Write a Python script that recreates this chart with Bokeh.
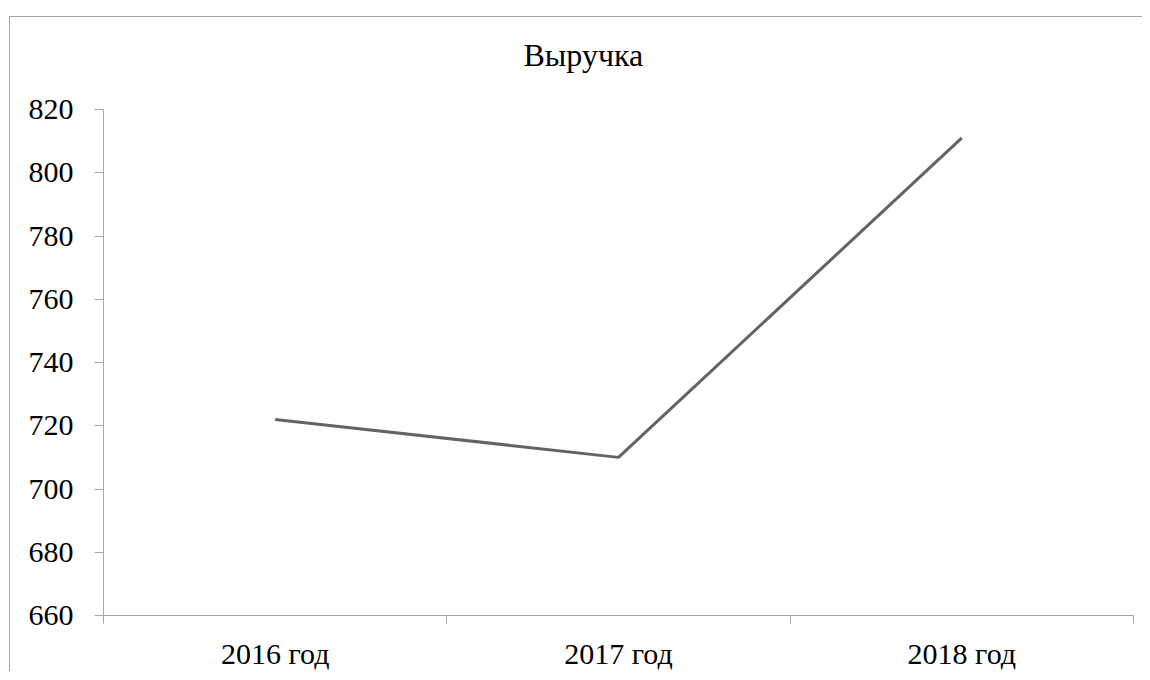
from bokeh.plotting import figure
from bokeh.models import FixedTicker, Range1d, ColumnDataSource, Spacer, Title
from bokeh.layouts import column, row
from bokeh.embed import file_html
from bokeh.resources import INLINE

categories = ["2016 год", "2017 год", "2018 год"]
revenue = [722, 710, 811]
y_ticks = [660, 680, 700, 720, 740, 760, 780, 800, 820]
title_text = "Выручка"

FONT = "Liberation Serif"
AXIS_COLOR = "#a6a6a6"

xs = [i + 0.5 for i in range(len(categories))]
src = ColumnDataSource(dict(x=xs, y=revenue))

p = figure(width=1133, height=655, output_backend="svg", toolbar_location=None, title=None,
           x_range=Range1d(0, len(categories)), y_range=Range1d(y_ticks[0], y_ticks[-1]),
           min_border_left=93, min_border_top=92, min_border_right=10, min_border_bottom=55)
p.styles = {"border-top": "1px solid #a6a6a6", "border-left": "1px solid #a6a6a6"}
p.outline_line_color = None
p.grid.visible = False

p.line("x", "y", source=src, line_color="#636363", line_width=3)

# x axis
xt = FixedTicker(ticks=xs, minor_ticks=list(range(len(categories) + 1)))
p.xaxis.ticker = xt
p.xaxis.major_label_overrides = {x: c for x, c in zip(xs, categories)}
p.xaxis.major_tick_out = 0
p.xaxis.major_tick_in = 0
p.xaxis.minor_tick_out = 8
p.xaxis.minor_tick_in = 0
p.xaxis.axis_line_color = AXIS_COLOR
p.xaxis.minor_tick_line_color = AXIS_COLOR
p.xaxis.major_label_standoff = 13

# y axis
p.yaxis.ticker = FixedTicker(ticks=y_ticks)
p.yaxis.major_tick_out = 9
p.yaxis.major_tick_in = 0
p.yaxis.minor_tick_line_color = None
p.yaxis.axis_line_color = AXIS_COLOR
p.yaxis.major_tick_line_color = AXIS_COLOR
p.yaxis.major_label_standoff = 21

for ax in (p.xaxis, p.yaxis):
    ax.major_label_text_font = FONT
    ax.major_label_text_font_size = "30px"
    ax.major_label_text_color = "black"

# empty spacer title next to the frame, then the real title above it
p.add_layout(Title(text=" ", text_font_size="1px", standoff=34), "above")
p.add_layout(Title(text=title_text, text_font=FONT, text_font_size="32px",
                   text_font_style="normal", text_color="black",
                   align="left", offset=420, standoff=0), "above")

layout = column(Spacer(height=16), row(Spacer(width=9), p))
open("out.html", "w").write(file_html(layout, INLINE))
